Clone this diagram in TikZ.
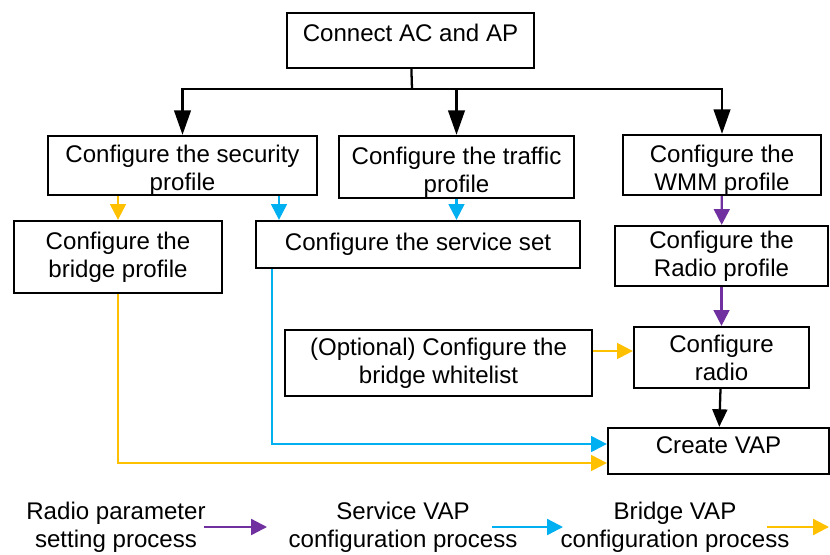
\documentclass[tikz,border=0pt]{standalone}
\usepackage{fontspec}
\setmainfont{Liberation Sans}
\usepackage{tikz}
\usetikzlibrary{arrows.meta, positioning, calc}

\definecolor{radpurple}{HTML}{7030A0}
\definecolor{svcblue}{HTML}{00B0F0}
\definecolor{brgyellow}{HTML}{FFC000}

\begin{document}
\begin{tikzpicture}[
  x=0.02cm, y=-0.02cm,
  box/.style={rectangle, draw=black, line width=1.3pt, inner sep=2pt, align=center, font=\fontsize{13.7}{16}\selectfont},
  low/.style={inner ysep=0pt, text height=31pt, text depth=2.3pt},
  leg/.style={inner sep=0pt, align=center, font=\fontsize{13.7}{16}\selectfont},
  arr/.style={-{Triangle[length=10pt, width=8.5pt]}, line width=1.3pt, black},
  arrTop/.style={-{Triangle[length=14pt, width=9.5pt]}, line width=1.3pt, black},
  arrP/.style={-{Triangle[length=9pt, width=9pt]}, line width=1.3pt, radpurple},
  arrB/.style={-{Triangle[length=9pt, width=9pt]}, line width=1.3pt, svcblue},
  arrY/.style={-{Triangle[length=9pt, width=9pt]}, line width=1.3pt, brgyellow},
]
\useasboundingbox (0,0) rectangle (830,554);

\node[box, text depth=9pt, minimum width=247*0.02cm, minimum height=55*0.02cm] (conn) at (410.5,40.5) {Connect AC and AP};
\node[box, low, minimum width=269*0.02cm, minimum height=59*0.02cm] (sec)     at (182.5,165.5) {Configure the security\\profile};
\node[box, low, minimum width=235*0.02cm, minimum height=62*0.02cm] (traf)    at (456.5,167) {Configure the traffic\\profile};
\node[box, low, minimum width=198*0.02cm, minimum height=60*0.02cm] (wmm)     at (722,165) {Configure the\\WMM profile};
\node[box, minimum width=208*0.02cm, minimum height=72*0.02cm] (bridge)  at (118,257) {Configure the\\bridge profile};
\node[box, minimum width=324*0.02cm, minimum height=47*0.02cm] (svc)     at (418,244.5) {Configure the service set};
\node[box, minimum width=213*0.02cm, minimum height=60*0.02cm] (radprof) at (721.5,256) {Configure the\\Radio profile};
\node[box, minimum width=307*0.02cm, minimum height=66*0.02cm] (white)   at (438.5,363) {(Optional) Configure the\\bridge whitelist};
\node[box, minimum width=175*0.02cm, minimum height=61*0.02cm] (radio)   at (721.5,357.5) {Configure\\radio};
\node[box, text depth=6.8pt, minimum width=221*0.02cm, minimum height=46*0.02cm] (vap) at (718.5,451) {Create VAP};

% legend
\node[leg] (leg1) at (116,527) {Radio parameter\\setting process};
\node[leg] (leg2) at (403,527) {Service VAP\\configuration process};
\node[leg] (leg3) at (675,527) {Bridge VAP\\configuration process};
\coordinate (bus) at (412,89);
\coordinate (endP) at (267,527);
\coordinate (endB) at (563,527);
\coordinate (endY) at (829,527);

% black flow
\draw[line width=1.3pt] (conn) -- (bus);
\draw[arrTop] (bus) -| (sec.north);
\draw[arrTop] (bus) -| (traf.north);
\draw[arrTop] (bus) -| (wmm.north);
\draw[arr] (radio) -- (vap);

% radio parameters
\draw[arrP] (wmm) -- (radprof);
\draw[arrP] (radprof) -- (radio);

% service VAP
\draw[arrB] (sec.south -| 279,0) -- (svc.north -| 279,0);
\draw[arrB] (traf.south) -- (traf.south |- svc.north);
\draw[arrB] (svc.south -| 272,0) |- (vap.west |- 0,444);

% bridge VAP
\draw[arrY] (sec.south -| bridge.north) -- (bridge.north);
\draw[arrY] (white.east |- 0,351) -- (radio.west |- 0,351);
\draw[arrY] (bridge.south) |- (vap.west |- 0,463);

\draw[arrP] (204,527) -- (endP);
\draw[arrB] (492,527) -- (endB);
\draw[arrY] (767,527) -- (endY);
\end{tikzpicture}
\end{document}
